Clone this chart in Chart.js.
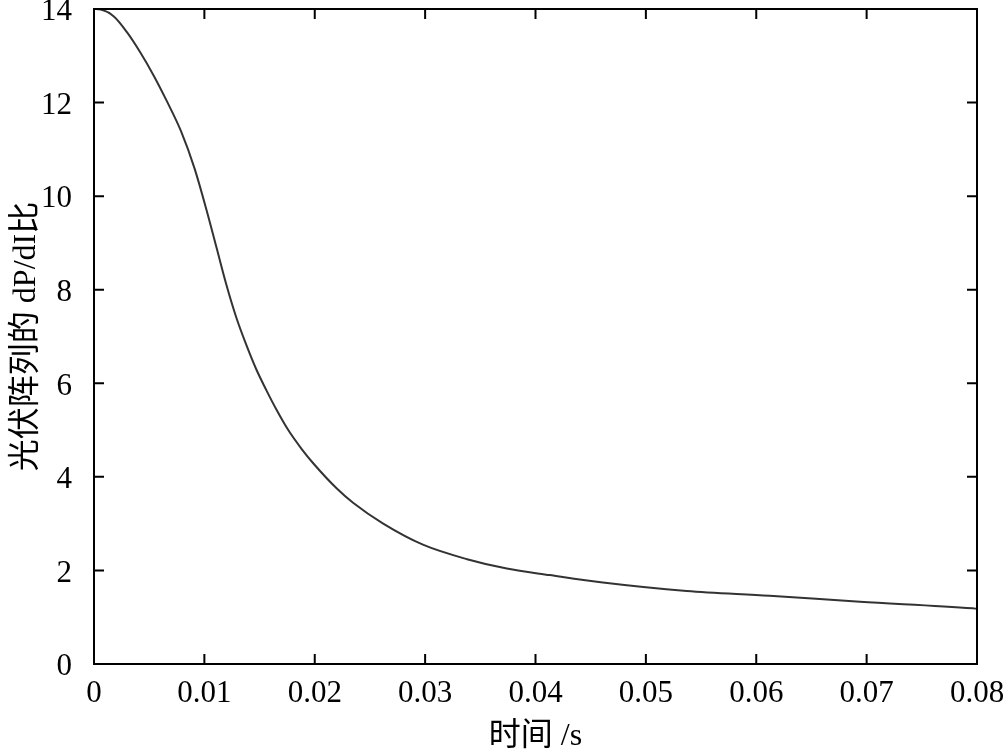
<!DOCTYPE html>
<html>
<head>
<meta charset="utf-8">
<script src="https://cdn.jsdelivr.net/npm/chart.js@4.4.0/dist/chart.umd.min.js"></script>
<style>
  html, body { margin: 0; padding: 0; background: #fff; }
  #wrap { width: 1004px; height: 750px; }
</style>
</head>
<body>
<div id="wrap"><canvas id="ratioChart"></canvas></div>
<script>
    // time (s) and dP/dI ratio
    const timeValues = [0, 0.0006, 0.0018, 0.003, 0.0042, 0.0054, 0.0066, 0.0079, 0.0091, 0.0102,
        0.0111, 0.012, 0.0129, 0.0138, 0.0147, 0.0156, 0.0165, 0.0176, 0.0188, 0.0199,
        0.022, 0.0235, 0.0262, 0.0298, 0.0338, 0.0374, 0.0413, 0.0461, 0.0537, 0.0612,
        0.0694, 0.0796, 0.08];
    const ratioValues = [14, 13.99, 13.84, 13.5, 13.07, 12.58, 12.03, 11.38, 10.6, 9.7,
        8.9, 8.1, 7.4, 6.82, 6.3, 5.86, 5.45, 5.0, 4.6, 4.28,
        3.75, 3.44, 3.0, 2.55, 2.24, 2.04, 1.9, 1.74, 1.56, 1.46,
        1.33, 1.19, 1.18];
    const xTicks = [0, 0.01, 0.02, 0.03, 0.04, 0.05, 0.06, 0.07, 0.08];
    const yTicks = [0, 2, 4, 6, 8, 10, 12, 14];

    const xTitle = '时间 /s';
    const yTitle = '光伏阵列的 dP/dI比';

    const serif = '"Liberation Serif", "Noto Sans CJK SC", serif';

    // frame + inward ticks on all four sides
    const framePlugin = {
        id: 'frame',
        afterDraw(chart) {
            const { ctx, chartArea: a, scales } = chart;
            const len = 10;
            ctx.save();
            ctx.strokeStyle = '#000';
            ctx.lineWidth = 2;
            ctx.strokeRect(a.left, a.top, a.right - a.left, a.bottom - a.top);
            ctx.beginPath();
            scales.x.ticks.forEach((t, i) => {
                const px = scales.x.getPixelForTick(i);
                ctx.moveTo(px, a.bottom); ctx.lineTo(px, a.bottom - len);
                ctx.moveTo(px, a.top); ctx.lineTo(px, a.top + len);
            });
            scales.y.ticks.forEach((t, i) => {
                const py = scales.y.getPixelForTick(i);
                ctx.moveTo(a.left, py); ctx.lineTo(a.left + len, py);
                ctx.moveTo(a.right, py); ctx.lineTo(a.right - len, py);
            });
            ctx.stroke();
            ctx.restore();
        }
    };

    const points = timeValues.map((t, i) => ({ x: t, y: ratioValues[i] }));

    new Chart(document.getElementById('ratioChart').getContext('2d'), {
        type: 'line',
        data: {
            datasets: [{
                data: points,
                borderColor: '#333',
                borderWidth: 2,
                pointRadius: 0,
                cubicInterpolationMode: 'monotone',
                fill: false,
            }]
        },
        options: {
            responsive: true,
            maintainAspectRatio: false,
            animation: false,
            layout: { padding: { top: 9, right: 27, left: 0, bottom: 0 } },
            plugins: { legend: { display: false }, tooltip: { enabled: false } },
            scales: {
                x: {
                    type: 'linear',
                    min: 0,
                    max: 0.08,
                    afterBuildTicks: scale => { scale.ticks = xTicks.map(v => ({ value: v })); },
                    afterFit: scale => {
                        scale.height = 86;
                        scale.paddingLeft = 0;
                        scale.paddingRight = 0;
                    },
                    grid: { display: false },
                    border: { display: false },
                    ticks: {
                        color: '#000',
                        padding: 3,
                        maxRotation: 0,
                        autoSkip: false,
                        font: { family: serif, size: 31 },
                        callback: v => String(v),
                    },
                    title: {
                        display: true,
                        text: xTitle,
                        color: '#000',
                        font: { family: serif, size: 32 },
                        padding: { top: 0, bottom: -6 },
                    }
                },
                y: {
                    min: 0,
                    max: 14,
                    afterBuildTicks: scale => { scale.ticks = yTicks.map(v => ({ value: v })); },
                    afterFit: scale => {
                        scale.width = 94;
                        scale.paddingTop = 0;
                        scale.paddingBottom = 0;
                    },
                    grid: { display: false },
                    border: { display: false },
                    ticks: {
                        color: '#000',
                        padding: 14,
                        // empty first line nudges the number a few px below its tick
                        font: { family: serif, size: 31, lineHeight: 0.2 },
                        callback: v => ['', String(v)],
                    },
                    title: {
                        display: true,
                        text: yTitle,
                        color: '#000',
                        font: { family: serif, size: 32 },
                        padding: { top: 7, bottom: 0 },
                    }
                }
            }
        },
        plugins: [framePlugin]
    });
</script>
</body>
</html>
